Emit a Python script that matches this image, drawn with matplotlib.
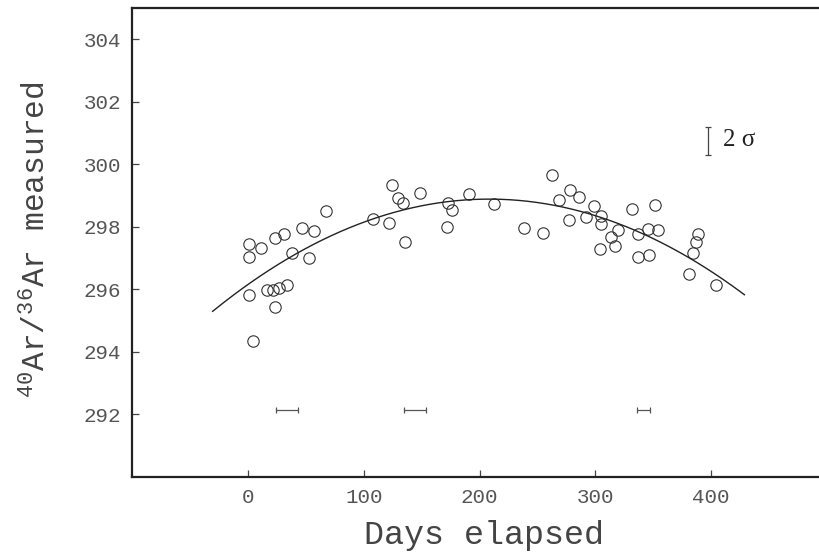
import numpy as np
import matplotlib
matplotlib.use("Agg")
import matplotlib.pyplot as plt

# ---- data ----
days = [124.1, 129.5, 67.0, 107.7, 121.5, 46.6, 57.0, 23.3, 30.8, 1.1,
        11.2, 1.1, 37.7, 52.7, 1.1, 16.4, 21.3, 26.5, 33.4, 23.6, 4.3,
        134.2, 135.3, 148.9, 172.5, 176.2, 171.6, 190.9, 212.5, 238.7, 254.5,
        262.6, 268.9,
        278.4, 285.6, 277.3, 292.0, 298.9, 304.6, 304.6, 319.7, 313.6, 317.1,
        304.1, 332.0, 351.9, 337.2, 345.6, 354.2, 337.2, 346.7, 388.4, 387.0,
        384.7, 381.0, 404.6]
ratios = [299.33, 298.93, 298.49, 298.25, 298.12, 297.96, 297.87, 297.62, 297.75, 297.46,
          297.32, 297.03, 297.16, 296.99, 295.82, 295.98, 295.98, 296.04, 296.14, 295.44, 294.35,
          298.75, 297.51, 299.09, 298.74, 298.54, 298.00, 299.04, 298.73, 297.95, 297.79,
          299.64, 298.84,
          299.16, 298.96, 298.22, 298.30, 298.65, 298.33, 298.08, 297.88, 297.66, 297.38,
          297.29, 298.55, 298.69, 297.76, 297.92, 297.88, 297.03, 297.08, 297.75, 297.51,
          297.15, 296.50, 296.12]

# fitted parabola: value = peak_value + curvature * (day - peak_day)^2
fit_peak_day = 208.3
fit_peak_value = 298.88
fit_curvature = -6.29e-5
fit_range = [-30.6, 428.8]

# horizontal (time) error bars shown near the bottom
hbar_days = [33.7, 144.1, 341.5]
hbar_halfwidth = [9.6, 9.6, 5.8]
hbar_level = 292.12

# 2 sigma scale bar
sigma_day = 397.1
sigma_center = 300.74
sigma_half = 0.46
sigma_label = "2 σ"

xticks = [0, 100, 200, 300, 400]
yticks = [292, 294, 296, 298, 300, 302, 304]

plt.rcParams['mathtext.fontset'] = 'custom'
plt.rcParams['mathtext.rm'] = 'Liberation Mono'
plt.rcParams['mathtext.it'] = 'Liberation Mono'
plt.rcParams['mathtext.bf'] = 'Liberation Mono'

fig = plt.figure(figsize=(8.19, 5.53), dpi=100)
ax_left = 132.3 / 819
ax_bottom = (553 - 476.7) / 553
ax_height = (476.7 - 7.8) / 553
ax_width = (600 * 1.1575) / 819
ax = fig.add_axes([ax_left, ax_bottom, ax_width, ax_height])

ax.set_xlim(-100, 500)
ax.set_ylim(290, 305)

mono = 'Liberation Mono'
ink = '#333333'

ax.plot(days, ratios, linestyle='none', marker='o', markersize=8.2,
        markerfacecolor='none', markeredgecolor=ink, markeredgewidth=0.8)

xf = np.linspace(fit_range[0], fit_range[1], 300)
yf = fit_peak_value + fit_curvature * (xf - fit_peak_day) ** 2
ax.plot(xf, yf, color='#222222', linewidth=1.0)

ax.errorbar(hbar_days, [hbar_level] * len(hbar_days), xerr=hbar_halfwidth,
            fmt='none', ecolor='#555555', elinewidth=0.9, capsize=2.1, capthick=0.9)

ax.errorbar([sigma_day], [sigma_center], yerr=[sigma_half], fmt='none',
            ecolor='#444444', elinewidth=0.9, capsize=2.0, capthick=0.9)
ax.text(sigma_day + 13, sigma_center + 0.03, sigma_label, fontsize=18,
        family='Liberation Serif', color='#222222', va='center', ha='left')

ax.set_xticks(xticks)
ax.set_yticks(yticks)
ax.set_xticklabels([str(t) for t in xticks])
ax.set_yticklabels([str(t) for t in yticks])
ax.tick_params(direction='in', length=5, width=0.9, color='#444444',
               labelsize=15, labelcolor='#555555', pad=8)
for lab in ax.get_xticklabels() + ax.get_yticklabels():
    lab.set_family(mono)

for s in ['left', 'bottom', 'top']:
    ax.spines[s].set_linewidth(1.6)
    ax.spines[s].set_color('#222222')
ax.spines['right'].set_visible(False)

ax.set_xlabel('Days elapsed', fontsize=24, family=mono, color='#444444')
ax.xaxis.set_label_coords(0.506, -0.092)
ax.set_ylabel(r'$^{40}$Ar/$^{36}$Ar measured', fontsize=22.5, family=mono, color='#444444')
ax.yaxis.set_label_coords(-0.114, 0.506)

fig.savefig('out.png', dpi=100)
